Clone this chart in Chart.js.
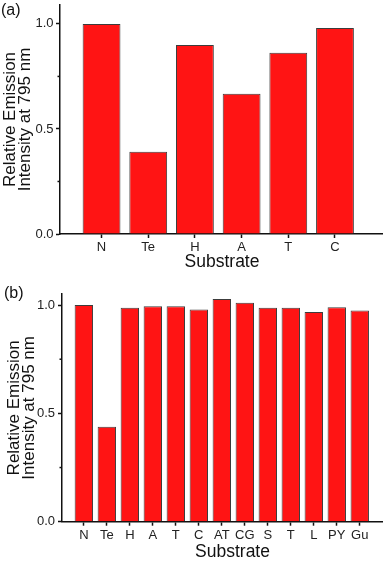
<!DOCTYPE html>
<html>
<head>
<meta charset="utf-8">
<script src="https://cdn.jsdelivr.net/npm/chart.js@4/dist/chart.umd.min.js"></script>
<style>
html,body{margin:0;padding:0;width:383px;height:561px;overflow:hidden;background:#fff;}
.wrap{position:absolute;left:0;}
.lab{position:absolute;font-family:"Liberation Sans",Arial,sans-serif;font-size:16px;line-height:16px;color:#111;}
</style>
</head>
<body>
<div class="wrap" style="top:0;width:384px;height:280px;"><canvas id="ca"></canvas></div>
<div class="wrap" style="top:280px;width:403px;height:281px;"><canvas id="cb"></canvas></div>
<div class="lab" style="left:1px;top:2px;">(a)</div>
<div class="lab" style="left:4px;top:285px;">(b)</div>
<script>
// ---- data ----
const categoriesA = ['N', 'Te', 'H', 'A', 'T', 'C'];
const valuesA = [1.0, 0.392, 0.90, 0.668, 0.863, 0.981];
const categoriesB = ['N', 'Te', 'H', 'A', 'T', 'C', 'AT', 'CG', 'S', 'T', 'L', 'PY', 'Gu'];
const valuesB = [1.0, 0.438, 0.988, 0.994, 0.994, 0.979, 1.028, 1.011, 0.988, 0.988, 0.968, 0.99, 0.975];
const yMajorTicks = [0, 0.5, 1.0];
const yMinorTicks = [0.25, 0.75];
const yTitle = ['Relative Emission', 'Intensity at 795 nm'];
const xTitle = 'Substrate';

const FONT = '"Liberation Sans", Arial, sans-serif';
const AXIS = '#111';

const minorTickPlugin = {
  id: 'minorTicks',
  afterDraw(chart) {
    const y = chart.scales.y, ctx = chart.ctx;
    const x0 = chart.chartArea.left;
    ctx.save();
    ctx.strokeStyle = AXIS;
    ctx.lineWidth = 1.5;
    yMinorTicks.forEach(v => {
      const p = y.getPixelForValue(v);
      ctx.beginPath();
      ctx.moveTo(x0 - 2.5, p);
      ctx.lineTo(x0, p);
      ctx.stroke();
    });
    ctx.restore();
  }
};

function makeChart(id, cats, vals, cfg) {
  const data = vals.map((v, i) => ({ x: i + 1, y: v }));
  return new Chart(document.getElementById(id), {
    type: 'bar',
    data: {
      datasets: [{
        data: data,
        backgroundColor: '#ff1414',
        borderColor: '#3c3c3c',
        borderWidth: 1,
        categoryPercentage: 1,
        barPercentage: cfg.barPct
      }]
    },
    plugins: [minorTickPlugin],
    options: {
      responsive: true,
      maintainAspectRatio: false,
      animation: false,
      events: [],
      layout: { padding: { top: cfg.top, left: 0, right: 0, bottom: 0 } },
      plugins: { legend: { display: false }, tooltip: { enabled: false } },
      scales: {
        x: {
          type: 'linear',
          offset: false,
          min: cfg.xmin,
          max: cfg.xmax,
          afterBuildTicks: s => { s.ticks = cats.map((_, i) => ({ value: i + 1 })); },
          afterFit: s => { s.height = cfg.xh; s.paddingLeft = 0; s.paddingRight = 0; },
          grid: { offset: false, drawOnChartArea: false, tickLength: 4, tickWidth: 1.5, tickColor: AXIS },
          border: { display: true, color: AXIS, width: 1.5 },
          ticks: {
            autoSkip: false, maxRotation: 0, minRotation: 0, padding: 2,
            color: '#222', font: { family: FONT, size: 13 },
            callback: v => cats[Math.round(v) - 1] || ''
          },
          title: {
            display: true, text: xTitle, color: '#111',
            font: { family: FONT, size: 17.5, lineHeight: 1 },
            padding: { top: 0, bottom: cfg.xtPad }
          }
        },
        y: {
          min: 0,
          max: cfg.ymax,
          afterBuildTicks: s => { s.ticks = yMajorTicks.map(v => ({ value: v })); },
          afterFit: s => { s.width = cfg.yw; s.paddingTop = 0; s.paddingBottom = 0; },
          grid: { drawOnChartArea: false, tickLength: 4, tickWidth: 1.5, tickColor: AXIS },
          border: { display: true, color: AXIS, width: 1.5 },
          ticks: {
            padding: cfg.ytPad, color: '#222', font: { family: FONT, size: 13 },
            callback: v => Number(v).toFixed(1)
          },
          title: {
            display: true, text: yTitle, color: '#111',
            font: { family: FONT, size: 17, lineHeight: 0.9 },
            padding: { top: cfg.ytitlePad, bottom: 0 }
          }
        }
      }
    }
  });
}

makeChart('ca', categoriesA, valuesA, {
  top: 5, xmin: 0.11, xmax: 7.05, ymax: 1.09, xh: 46, yw: 60,
  barPct: 0.81, xtPad: 9, ytPad: 2.5, ytitlePad: 2.5
});
makeChart('cb', categoriesB, valuesB, {
  top: 14, xmin: 0.05, xmax: 14.88, ymax: 1.051, xh: 39.3, yw: 62,
  barPct: 0.8, xtPad: 0, ytPad: 3, ytitlePad: 6.5
});
</script>
</body>
</html>
